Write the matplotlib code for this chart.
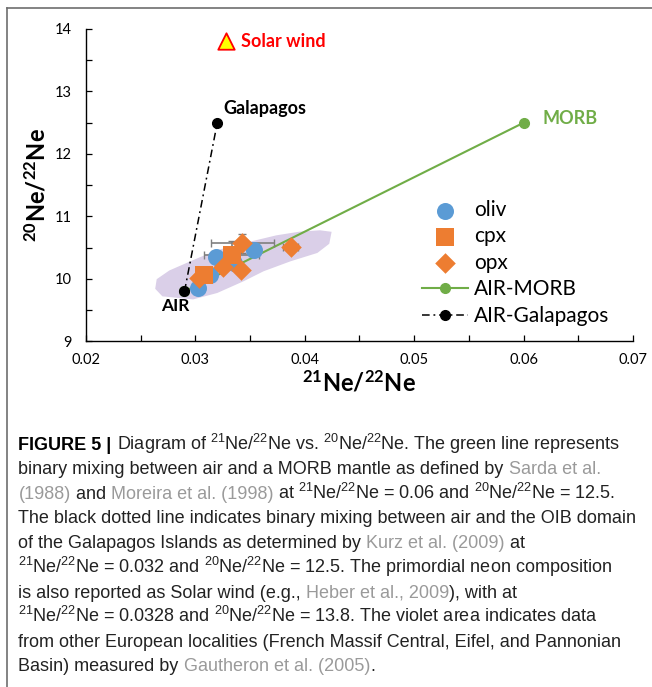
import matplotlib

matplotlib.use("Agg")
import matplotlib.pyplot as plt
from matplotlib.lines import Line2D
from matplotlib.patches import Polygon

plt.rcParams["font.family"] = ["Lato", "DejaVu Sans"]
plt.rcParams["mathtext.fontset"] = "custom"
plt.rcParams["mathtext.rm"] = "Liberation Sans"
plt.rcParams["mathtext.it"] = "Liberation Sans:italic"
plt.rcParams["mathtext.bf"] = "Lato:bold"

# ── data ──────────────────────────────────────────────────────────────

oliv_x = [0.0302, 0.0313, 0.0319, 0.0335, 0.0354]
oliv_y = [9.86, 10.06, 10.35, 10.26, 10.46]

cpx_x = [0.0308, 0.0333]
cpx_y = [10.07, 10.39]
cpx_xerr = [0.0, 0.0025]
cpx_yerr = [0.0, 0.22]

opx_x = [0.0303, 0.0325, 0.0342, 0.0343, 0.0387]
opx_y = [10.02, 10.19, 10.14, 10.57, 10.51]
opx_xerr = [0.0, 0.0, 0.0, 0.0029, 0.0007]
opx_yerr = [0.0, 0.0, 0.0, 0.15, 0.0]

air = (0.029, 9.8)
morb = (0.060, 12.5)
galapagos = (0.032, 12.5)
solar_wind = (0.0328, 13.8)

# outline of the European localities field (Gautheron et al. 2005)
europe_x = [0.02646, 0.02704, 0.02978, 0.03195, 0.03435, 0.03618, 0.03865,
            0.04109, 0.04212, 0.04230, 0.04139, 0.03956, 0.03743, 0.03502,
            0.03195, 0.02978, 0.02768, 0.02658]
europe_y = [9.851, 9.744, 9.696, 9.797, 9.984, 10.144, 10.304, 10.437,
            10.576, 10.736, 10.757, 10.736, 10.677, 10.576, 10.437, 10.277,
            10.117, 9.984]

BLUE = "#5b9bd5"
ORANGE = "#ed7d31"
GREEN = "#70ad47"
VIOLET = "#dacfe8"
GREY = "#7f7f7f"
CITE = "#9a9a9a"

W, H = 652, 687
fig = plt.figure(figsize=(W / 100, H / 100), dpi=100)

# frame lines round the figure panel
fig.add_artist(Line2D([7 / W, 1], [1 - 8 / H, 1 - 8 / H], color="#6e6e6e", lw=1.2))
fig.add_artist(Line2D([7 / W, 7 / W], [0, 1 - 8 / H], color="#6e6e6e", lw=1.2))

ax = fig.add_axes([86 / W, 1 - 341.5 / H, 547 / W, 312.5 / H])

ax.add_patch(Polygon(list(zip(europe_x, europe_y)), closed=True,
                     facecolor=VIOLET, edgecolor=VIOLET, lw=2, zorder=1))

ax.plot([air[0], morb[0]], [air[1], morb[1]], color=GREEN, lw=1.5,
        marker="o", ms=7, mfc=GREEN, mec=GREEN, zorder=2, label="AIR-MORB")
ax.plot([air[0], galapagos[0]], [air[1], galapagos[1]], color="black", lw=1.1,
        ls=(0, (5, 2.5, 1.2, 2.5)), marker="o", ms=7, mfc="black", mec="black",
        zorder=3, label="AIR-Galapagos")

ax.errorbar(cpx_x, cpx_y, xerr=cpx_xerr, yerr=cpx_yerr, fmt="none",
            ecolor=GREY, elinewidth=1.2, capsize=3, zorder=4)
ax.errorbar(opx_x, opx_y, xerr=opx_xerr, yerr=opx_yerr, fmt="none",
            ecolor=GREY, elinewidth=1.2, capsize=3, zorder=4)

ax.scatter(oliv_x, oliv_y, s=150, marker="o", color=BLUE, lw=0, zorder=5, label="oliv")
ax.scatter(cpx_x, cpx_y, s=170, marker="s", color=ORANGE, lw=0, zorder=6, label="cpx")
ax.scatter(opx_x, opx_y, s=110, marker="D", color=ORANGE, lw=0, zorder=7, label="opx")

ax.scatter([solar_wind[0]], [solar_wind[1]], s=140, marker="^", color="#ffff00",
           edgecolor="#ff0000", lw=1.3, zorder=8)
ax.text(solar_wind[0] + 0.0014, solar_wind[1], "Solar wind", color="#ff0000",
        fontsize=13, fontweight="bold", va="center", ha="left")
ax.text(galapagos[0] + 0.0006, galapagos[1] + 0.09, "Galapagos",
        fontsize=13, fontweight="bold", va="bottom", ha="left")
ax.text(morb[0] + 0.0017, morb[1] + 0.06, "MORB", color=GREEN,
        fontsize=13, fontweight="bold", va="center", ha="left")
ax.text(air[0] - 0.0021, air[1] - 0.11, "AIR", fontsize=12.5,
        fontweight="bold", va="top", ha="left")

ax.set_xlim(0.02, 0.07)
ax.set_ylim(9, 14)
ax.set_xticks([0.02, 0.03, 0.04, 0.05, 0.06, 0.07])
ax.set_xticklabels(["0.02", "0.03", "0.04", "0.05", "0.06", "0.07"])
ax.set_xticks([0.025, 0.035, 0.045, 0.055, 0.065], minor=True)
ax.set_yticks([9, 10, 11, 12, 13, 14])
ax.set_yticks([9.5, 10.5, 11.5, 12.5, 13.5], minor=True)
ax.tick_params(which="both", direction="in", length=4, width=0.9, labelsize=10.5)
ax.tick_params(axis="x", pad=8)
ax.tick_params(axis="y", pad=10)
for side in ("top", "right"):
    ax.spines[side].set_visible(False)
for side in ("left", "bottom"):
    ax.spines[side].set_linewidth(1.0)

ax.set_xlabel(r"$\mathbf{^{21}}$Ne/$\mathbf{^{22}}$Ne", fontsize=17,
              fontweight="bold", labelpad=2)
ax.set_ylabel(r"$\mathbf{^{20}}$Ne/$\mathbf{^{22}}$Ne", fontsize=17,
              fontweight="bold", labelpad=4)

handles, labels = ax.get_legend_handles_labels()
order = ["oliv", "cpx", "opx", "AIR-MORB", "AIR-Galapagos"]
hmap = dict(zip(labels, handles))
ax.legend([hmap[k] for k in order], order, loc="upper left",
          bbox_to_anchor=(422 / W, 1 - 200 / H), bbox_transform=fig.transFigure,
          frameon=False, fontsize=15, handlelength=2.2, handletextpad=0.3,
          labelspacing=0.31, borderpad=0, borderaxespad=0, scatterpoints=1)

# ── caption ───────────────────────────────────────────────────────────

N = "normal"
CAP = [
    [("FIGURE 5 | ", "black", "bold"),
     ("Diagram of $^{21}$Ne/$^{22}$Ne vs. $^{20}$Ne/$^{22}$Ne. The green line represents", "#222222", N)],
    [("binary mixing between air and a MORB mantle as defined by ", "#222222", N),
     ("Sarda et al.", CITE, N)],
    [("(1988)", CITE, N), (" and ", "#222222", N), ("Moreira et al. (1998)", CITE, N),
     (" at $^{21}$Ne/$^{22}$Ne = 0.06 and $^{20}$Ne/$^{22}$Ne = 12.5.", "#222222", N)],
    [("The black dotted line indicates binary mixing between air and the OIB domain", "#222222", N)],
    [("of the Galapagos Islands as determined by ", "#222222", N),
     ("Kurz et al. (2009)", CITE, N), (" at", "#222222", N)],
    [("$^{21}$Ne/$^{22}$Ne = 0.032 and $^{20}$Ne/$^{22}$Ne = 12.5. The primordial neon composition", "#222222", N)],
    [("is also reported as Solar wind (e.g., ", "#222222", N),
     ("Heber et al., 2009", CITE, N), ("), with at", "#222222", N)],
    [("$^{21}$Ne/$^{22}$Ne = 0.0328 and $^{20}$Ne/$^{22}$Ne = 13.8. The violet area indicates data", "#222222", N)],
    [("from other European localities (French Massif Central, Eifel, and Pannonian", "#222222", N)],
    [("Basin) measured by ", "#222222", N), ("Gautheron et al. (2005)", CITE, N),
     (".", "#222222", N)],
]
CAP_Y = [450, 474, 499, 523, 548, 573, 598, 622, 647, 671]

renderer = fig.canvas.get_renderer()
for line, yb in zip(CAP, CAP_Y):
    x = 18.5
    for text, color, weight in line:
        t = fig.text(x / W, 1 - yb / H, text, color=color, fontweight=weight,
                     fontsize=12.95, family=["Liberation Sans", "DejaVu Sans"],
                     ha="left", va="baseline")
        x += t.get_window_extent(renderer).width

fig.savefig("out.png", dpi=100)
